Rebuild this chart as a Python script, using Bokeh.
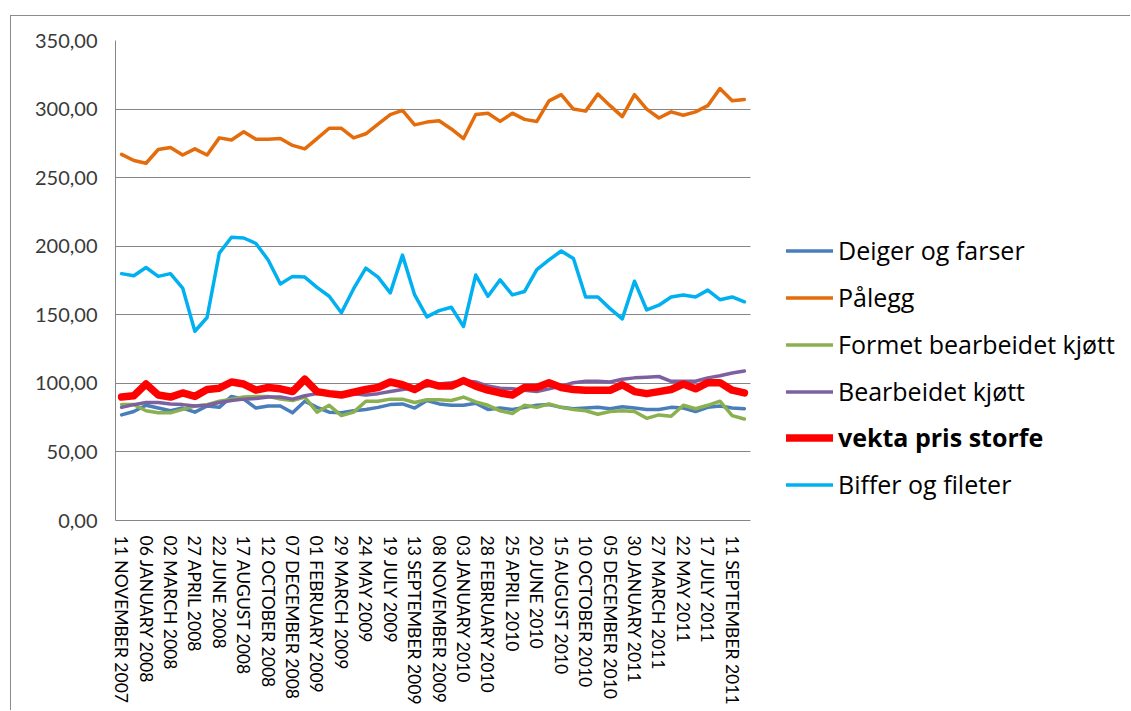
import math
from bokeh.plotting import figure
from bokeh.models import FixedTicker, Legend, LegendItem, Range1d
from bokeh.embed import file_html
from bokeh.resources import INLINE

# x-axis tick labels (every second category)
tick_labels = [
    "11 NOVEMBER 2007", "06 JANUARY 2008", "02 MARCH 2008", "27 APRIL 2008",
    "22 JUNE 2008", "17 AUGUST 2008", "12 OCTOBER 2008", "07 DECEMBER 2008",
    "01 FEBRUARY 2009", "29 MARCH 2009", "24 MAY 2009", "19 JULY 2009",
    "13 SEPTEMBER 2009", "08 NOVEMBER 2009", "03 JANUARY 2010", "28 FEBRUARY 2010",
    "25 APRIL 2010", "20 JUNE 2010", "15 AUGUST 2010", "10 OCTOBER 2010",
    "05 DECEMBER 2010", "30 JANUARY 2011", "27 MARCH 2011", "22 MAY 2011",
    "17 JULY 2011", "11 SEPTEMBER 2011",
]

y_ticks = [0, 50, 100, 150, 200, 250, 300, 350]
y_tick_labels = ["0,00", "50,00", "100,00", "150,00", "200,00", "250,00", "300,00", "350,00"]

series_names = ["Deiger og farser", "Pålegg", "Formet bearbeidet kjøtt",
                "Bearbeidet kjøtt", "vekta pris storfe", "Biffer og fileter"]

deiger = [77, 79.5, 84, 82, 80, 82, 79, 83.5, 82.5, 90.5, 88.5, 82, 83.5, 83.5, 78.5, 87,
          82.5, 79, 78.5, 80, 81, 82.5, 84.5, 85, 82, 87.5, 85, 84, 84, 85.5, 81, 82,
          81, 82.5, 84, 84.5, 82.5, 81.5, 82, 82.5, 81.5, 83, 82, 81, 81, 82.5, 82, 79.5,
          82.5, 83.5, 82, 81.5]

palegg = [267, 262.5, 260.5, 270.5, 272, 266.5, 271, 266.5, 279, 277.5, 283.5, 278, 278,
          278.5, 273.5, 271, 278.5, 286, 286, 279, 282, 289, 296, 299, 288.5, 290.5, 291.5,
          285.5, 278.5, 296, 297, 291, 297, 292.5, 291, 306, 310.5, 300, 298.5, 311, 302.5,
          294.5, 310.5, 300, 293.5, 298, 295.5, 298, 302.5, 315, 306, 307]

formet = [84.5, 84.5, 80, 78.5, 78.5, 81, 83.5, 84.5, 87, 88.5, 90, 90.5, 90.5, 88.5, 87.5,
          90, 79, 84, 76.5, 79, 87, 87, 88.5, 88.5, 86, 88, 88, 87.5, 90, 86.5, 84, 80, 78,
          84, 82.5, 85, 82.5, 81, 80, 77.5, 79.5, 80, 79.5, 74.5, 77, 76, 84, 81.5, 84, 87,
          76.5, 74]

bearbeidet = [82.5, 84.5, 86, 86, 85, 84.5, 83.5, 84, 86, 87.5, 88.5, 89, 90, 90, 88.5, 91,
              92.5, 92.5, 92.5, 92.5, 91.5, 92.5, 94, 95.5, 97, 98, 99.5, 100.5, 102, 101,
              98, 96.5, 96, 95, 94, 96, 98, 100.5, 101.5, 101.5, 101, 103, 104, 104.5, 105,
              101.5, 101.5, 101.5, 104, 105.5, 107.5, 109]

vekta = [90, 91, 99.5, 91.5, 90, 93, 90.5, 95.5, 96.5, 101, 99.5, 95, 97, 96, 94, 103, 94,
         92.5, 91.5, 93.5, 95.5, 97, 101, 99, 95.5, 100.5, 98, 98, 102, 98, 95, 93, 91.5,
         97, 97, 100.5, 97, 95.5, 95, 95, 95, 99, 94, 92.5, 94, 95.5, 99.5, 96, 100.5,
         100.5, 95, 93]

biffer = [180, 178.5, 184.5, 178, 180, 169.5, 138, 148, 195, 206.5, 206, 202, 190, 172.5,
          178, 177.5, 170, 163.5, 151.5, 169, 184, 177.5, 166, 193.5, 164.5, 148.5, 153,
          155.5, 141.5, 179, 163.5, 175.5, 164.5, 167, 183, 190, 196.5, 191, 163, 163, 154.5,
          147, 174.5, 153.5, 157, 163, 164.5, 163, 168, 161, 163, 159.5]

colors = ["#4A7EBB", "#E46C0A", "#8BB04F", "#7D60A0", "#FF0000", "#00B0F0"]
widths = [3.5, 3.5, 3.5, 3.5, 7.5, 3.5]

n = len(palegg)
xs = list(range(n))

# page offset of the figure (outer chart border sits at its top-left)
OX, OY = 11, 16
W, H = 1131 - OX, 711 - OY
frame_left = 115 - OX
frame_top = 40 - OY
frame_bottom = 520 - OY
plot_w_px = 635.0          # width of the category area in pixels
cat_px = plot_w_px / n
x_end = -0.5 + (W - frame_left) / cat_px

p = figure(width=W, height=H, output_backend="svg", toolbar_location=None,
           x_range=Range1d(-0.5, x_end), y_range=Range1d(0, 350),
           min_border_left=frame_left, min_border_top=frame_top,
           min_border_right=0, min_border_bottom=H - frame_bottom)
p.outline_line_color = None
p.background_fill_color = "white"
p.border_fill_color = "white"
p.margin = (OY - 1, 0, 0, OX - 1)
p.styles = {"border-left": "1px solid #8C8C8C", "border-top": "1px solid #8C8C8C"}

FONT = "Lato"
LEGEND_FONT = "Open Sans"

# y axis
p.yaxis.ticker = FixedTicker(ticks=y_ticks)
p.yaxis.major_label_overrides = {t: l for t, l in zip(y_ticks, y_tick_labels)}
p.yaxis.axis_line_color = "#868686"
p.yaxis.axis_line_width = 1
p.yaxis.major_tick_line_color = None
p.yaxis.minor_tick_line_color = None
p.yaxis.major_label_standoff = 12
p.yaxis.major_label_text_font = FONT
p.yaxis.major_label_text_font_size = "20px"
p.yaxis.major_label_text_color = "#3A3A3A"

# x axis
p.xaxis.ticker = FixedTicker(ticks=[2 * i for i in range(len(tick_labels))])
p.xaxis.major_label_overrides = {2 * i: l for i, l in enumerate(tick_labels)}
p.xaxis.major_label_orientation = -math.pi / 2
p.xaxis.bounds = (-0.5, n - 0.5)
p.xaxis.axis_line_color = "#868686"
p.xaxis.major_tick_line_color = None
p.xaxis.minor_tick_line_color = None
p.xaxis.major_label_standoff = 9
p.xaxis.major_label_text_font = FONT
p.xaxis.major_label_text_font_size = "17.5px"
p.xaxis.major_label_text_color = "black"

p.xgrid.grid_line_color = None
p.ygrid.ticker = FixedTicker(ticks=y_ticks)
p.ygrid.cross_bounds = (-0.5, n - 0.5)
p.ygrid.grid_line_color = "#868686"
p.ygrid.grid_line_width = 1

data = [deiger, palegg, formet, bearbeidet, vekta, biffer]
renderers = []
for vals, c, w in zip(data, colors, widths):
    r = p.line(xs, vals, line_color=c, line_width=w, line_join="round", line_cap="round")
    renderers.append(r)

def make_legend(idx, vy, bold=False):
    items = [LegendItem(label=series_names[i], renderers=[renderers[i]]) for i in idx]
    lg = Legend(items=items, location=(671, vy), orientation="vertical",
                glyph_width=47, glyph_height=47, label_height=47, spacing=0,
                padding=0, margin=0, label_standoff=5,
                border_line_color=None, background_fill_alpha=0,
                label_text_font=LEGEND_FONT, label_text_font_size="25px",
                label_text_color="black",
                label_text_font_style="bold" if bold else "normal")
    p.add_layout(lg, "center")

make_legend([0, 1, 2, 3], 105.5)
make_legend([4], 59.5, bold=True)
make_legend([5], 12.5)

open("out.html", "w").write(file_html(p, INLINE))
